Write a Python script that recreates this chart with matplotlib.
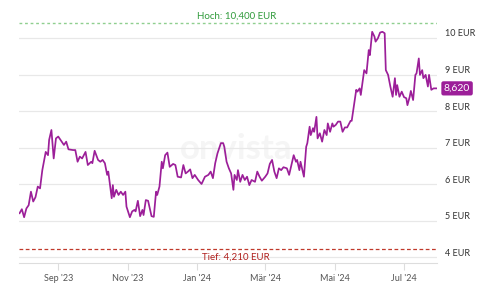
import matplotlib
matplotlib.use("Agg")
import matplotlib.pyplot as plt
import matplotlib.dates as mdates
import matplotlib.transforms as mtransforms
import pandas as pd

# Kursverlauf
dates = [
    "2023-07-29", "2023-07-31", "2023-08-02", "2023-08-04", "2023-08-06", "2023-08-08",
    "2023-08-10", "2023-08-12", "2023-08-14", "2023-08-16", "2023-08-18", "2023-08-21",
    "2023-08-23", "2023-08-24", "2023-08-26", "2023-08-28", "2023-08-30", "2023-09-01",
    "2023-09-03", "2023-09-06", "2023-09-08", "2023-09-10", "2023-09-14", "2023-09-16",
    "2023-09-18", "2023-09-20", "2023-09-22", "2023-09-25", "2023-09-27", "2023-09-30",
    "2023-10-01", "2023-10-03", "2023-10-06", "2023-10-08", "2023-10-10", "2023-10-12",
    "2023-10-14", "2023-10-15", "2023-10-18", "2023-10-19", "2023-10-20", "2023-10-22",
    "2023-10-24", "2023-10-26", "2023-10-28", "2023-10-30", "2023-10-31", "2023-11-03",
    "2023-11-05", "2023-11-07", "2023-11-08", "2023-11-10", "2023-11-12", "2023-11-14",
    "2023-11-15", "2023-11-17", "2023-11-19", "2023-11-22", "2023-11-24", "2023-11-26",
    "2023-11-27", "2023-11-29", "2023-12-01", "2023-12-02", "2023-12-04", "2023-12-06",
    "2023-12-08", "2023-12-11", "2023-12-13", "2023-12-15", "2023-12-18", "2023-12-20",
    "2023-12-22", "2023-12-24", "2023-12-26", "2023-12-28", "2023-12-30", "2024-01-02",
    "2024-01-05", "2024-01-08", "2024-01-11", "2024-01-13", "2024-01-15", "2024-01-17",
    "2024-01-19", "2024-01-22", "2024-01-24", "2024-01-25", "2024-01-27", "2024-01-29",
    "2024-01-31", "2024-02-02", "2024-02-03", "2024-02-05", "2024-02-06", "2024-02-08",
    "2024-02-10", "2024-02-12", "2024-02-14", "2024-02-16", "2024-02-18", "2024-02-21",
    "2024-02-23", "2024-02-25", "2024-02-27", "2024-03-01", "2024-03-03", "2024-03-05",
    "2024-03-07", "2024-03-09", "2024-03-11", "2024-03-13", "2024-03-15", "2024-03-17",
    "2024-03-20", "2024-03-22", "2024-03-24", "2024-03-26", "2024-03-28", "2024-03-29",
    "2024-03-31", "2024-04-01", "2024-04-03", "2024-04-04", "2024-04-06", "2024-04-07",
    "2024-04-09", "2024-04-10", "2024-04-12", "2024-04-13", "2024-04-15", "2024-04-16",
    "2024-04-18", "2024-04-20", "2024-04-22", "2024-04-24", "2024-04-25", "2024-04-27",
    "2024-04-29", "2024-04-30", "2024-05-02", "2024-05-04", "2024-05-06", "2024-05-08",
    "2024-05-10", "2024-05-12", "2024-05-15", "2024-05-16", "2024-05-18", "2024-05-20",
    "2024-05-21", "2024-05-23", "2024-05-24", "2024-05-25", "2024-05-27", "2024-05-29",
    "2024-05-31", "2024-06-01", "2024-06-03", "2024-06-05", "2024-06-06", "2024-06-08",
    "2024-06-10", "2024-06-12", "2024-06-14", "2024-06-15", "2024-06-17", "2024-06-19",
    "2024-06-21", "2024-06-23", "2024-06-24", "2024-06-25", "2024-06-27", "2024-06-29",
    "2024-07-01", "2024-07-03", "2024-07-04", "2024-07-06", "2024-07-07", "2024-07-09",
    "2024-07-11", "2024-07-12", "2024-07-14", "2024-07-15", "2024-07-17", "2024-07-18",
    "2024-07-20", "2024-07-22", "2024-07-23", "2024-07-25", "2024-07-27", "2024-07-30",
]
prices = [
    5.20, 5.31, 5.09, 5.33, 5.42, 5.79,
    5.52, 5.64, 5.93, 5.88, 6.38, 6.88,
    6.79, 7.21, 7.48, 6.70, 7.25, 7.30,
    7.21, 7.07, 7.16, 6.95, 6.93, 6.93,
    6.61, 6.75, 6.70, 6.88, 6.52, 6.61,
    6.57, 6.91, 6.66, 6.61, 6.66, 6.57,
    6.25, 6.34, 5.61, 5.97, 5.65, 5.84,
    5.70, 5.79, 5.70, 5.79, 5.38, 5.09,
    5.25, 5.29, 5.25, 5.54, 5.12, 5.29,
    5.15, 5.56, 5.54, 5.12, 5.10, 5.79,
    5.70, 5.93, 6.61, 6.43, 6.79, 6.86,
    6.47, 6.55, 6.52, 6.20, 6.18, 6.52,
    6.29, 6.34, 6.40, 6.16, 6.25, 6.11,
    6.00, 6.20, 6.25, 6.34, 6.16, 6.57,
    6.84, 7.12, 7.12, 7.02, 6.61, 6.43,
    6.29, 5.84, 6.25, 6.11, 6.38, 6.06,
    6.25, 6.11, 6.20, 5.97, 6.11, 6.06,
    6.34, 6.20, 6.09, 6.20, 6.29, 6.55,
    6.66, 6.34, 6.16, 6.43, 6.38, 6.46,
    6.43, 6.25, 6.52, 6.79, 6.61, 6.66,
    6.38, 6.61, 6.34, 6.20, 7.02, 7.12,
    7.57, 7.34, 7.53, 7.43, 7.84, 7.25,
    7.39, 7.16, 7.48, 7.34, 7.66, 7.43,
    7.66, 7.57, 7.62, 7.71, 7.71, 7.43,
    7.55, 7.55, 7.73, 7.73, 8.16, 8.58,
    8.53, 8.62, 8.44, 8.67, 9.12, 9.03,
    9.67, 9.53, 10.17, 10.04, 9.90, 9.99,
    10.15, 10.17, 10.13, 9.12, 8.99, 8.67,
    8.39, 8.90, 8.44, 8.71, 8.39, 8.53,
    8.38, 8.35, 8.16, 8.39, 8.55, 8.30,
    8.99, 9.03, 9.44, 8.99, 9.12, 8.90,
    8.99, 8.67, 8.99, 8.58, 8.62, 8.62,
]
hoch = 10.400
tief = 4.210
last = 8.620
yticks = [4, 5, 6, 7, 8, 9, 10]
xtick_dates = ["2023-09-01", "2023-11-01", "2024-01-01", "2024-03-01", "2024-05-01", "2024-07-01"]
xtick_labels = ["Sep '23", "Nov '23", "Jan '24", "Mär '24", "Mai '24", "Jul '24"]

plt.rcParams['font.family'] = ['Lato', 'DejaVu Sans']

x = pd.to_datetime(dates)
purple = '#9c1f99'

fig = plt.figure(figsize=(4.89, 2.87), dpi=100)
ax = fig.add_axes([19/489, 24/287, 418/489, 253/287])

for v in yticks:
    ax.axhline(v, color='#e8e8e8', lw=0.9, zorder=1)

# Wasserzeichen
ax.text(0.52, 0.45, 'onvista', transform=ax.transAxes, ha='center', va='center',
        fontsize=25, fontweight='bold', color='#f5f5f5', zorder=0)

ax.plot(x, prices, color=purple, lw=1.25, zorder=3)

ax.axhline(hoch, color='#8fcf8f', lw=1.0, ls=(0, (2, 2)), zorder=2)
ax.text(0.52, hoch + 0.07, 'Hoch: 10,400 EUR', transform=ax.get_yaxis_transform(),
        ha='center', va='bottom', fontsize=7, color='#2f9a3a')
ax.axhline(tief, color='#c0392b', lw=0.9, ls=(0, (3, 2)), zorder=2)
ax.text(0.52, tief - 0.08, 'Tief: 4,210 EUR', transform=ax.get_yaxis_transform(),
        ha='center', va='top', fontsize=7, color='#b0201e')

ax.set_xlim(pd.Timestamp("2023-07-28 12:00"), pd.Timestamp("2024-07-30"))
ax.set_ylim(3.836, 10.767)

ax.set_yticks(yticks)
ax.set_yticklabels([f"{v} EUR" for v in yticks])
ax.yaxis.tick_right()
ax.tick_params(axis='y', length=0, pad=6, labelsize=6.5, labelcolor='#333333')
off = mtransforms.ScaledTranslation(0, 5/100, fig.dpi_scale_trans)
for lab in ax.get_yticklabels():
    lab.set_transform(lab.get_transform() + off)
    lab.set_horizontalalignment('left')

ax.set_xticks(pd.to_datetime(xtick_dates))
ax.set_xticklabels(xtick_labels)
ax.tick_params(axis='x', length=5, width=0.8, color='#dddddd', pad=3,
               labelsize=6.5, labelcolor='#555555')

for s in ['top', 'left', 'right']:
    ax.spines[s].set_visible(False)
ax.spines['bottom'].set_color('#dddddd')
ax.spines['bottom'].set_linewidth(0.8)

ax.annotate(f"{last:.3f}".replace('.', ','), xy=(1.0, last), xycoords=ax.get_yaxis_transform(),
            xytext=(5, 0), textcoords='offset points', ha='left', va='center',
            fontsize=7.5, color='white',
            bbox=dict(boxstyle='round,pad=0.25,rounding_size=0.2', fc=purple, ec='none'))

plt.savefig('out.png', dpi=100)
